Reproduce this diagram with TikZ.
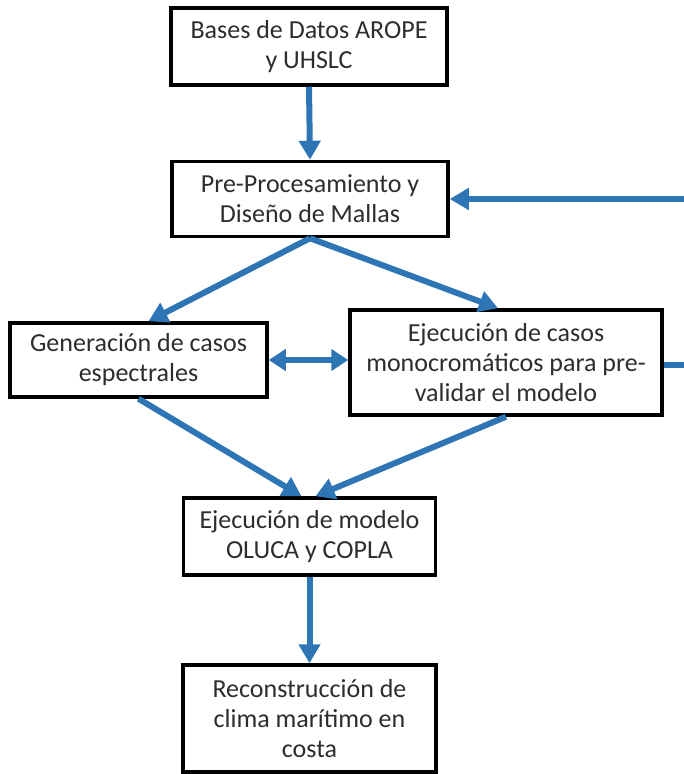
\documentclass[tikz,border=0pt]{standalone}
\usepackage{fontspec}
\setmainfont{Carlito}
\usepackage{xcolor}
\usetikzlibrary{arrows.meta,calc}
\definecolor{flowblue}{RGB}{46,117,182}
\definecolor{boxtext}{RGB}{45,45,45}

\begin{document}
\begin{tikzpicture}[x=1pt, y=-1pt,
    stage/.style={draw, line width=3.5pt, fill=white, inner sep=0pt, align=center,
      text=boxtext, font=\fontsize{26}{30}\selectfont},
    flow/.style={line width=6pt, flowblue, -{Triangle[length=19pt,width=21pt]}},
    flowboth/.style={line width=6pt, flowblue, {Triangle[length=17pt,width=21pt]}-{Triangle[length=17pt,width=21pt]}}]
  \useasboundingbox (0,0) rectangle (684,774);
  % Boxes
  \node[stage, minimum width=276pt, minimum height=77pt] (datos) at (309,46.5) {Bases de Datos AROPE\\y UHSLC};
  \node[stage, minimum width=276pt, minimum height=75pt] (mallas) at (310,199) {Pre-Procesamiento y\\Diseño de Mallas};
  \node[stage, minimum width=257pt, minimum height=74pt] (espec) at (138.5,360) {Generación de casos\\espectrales};
  \node[stage, minimum width=312pt, minimum height=105pt] (mono) at (506,362.5) {Ejecución de casos\\monocromáticos para pre-\\validar el modelo};
  \node[stage, minimum width=252pt, minimum height=77pt] (oluca) at (309.5,536.5) {Ejecución de modelo\\OLUCA y COPLA};
  \node[stage, minimum width=253pt, minimum height=107pt] (clima) at (309.5,718.5) {Reconstrucción de\\clima marítimo en\\costa};
  % Arrows
  \draw[flow] (datos.south) -- (mallas.north);
  \draw[flow] (mallas.south) -- ([xshift=10pt]espec.north);
  \draw[flow] (mallas.south) -- ([xshift=-8pt]mono.north);
  \draw[flowboth] (espec.east) -- (espec.east -| mono.west);
  \draw[flow] (espec.south) -- ([xshift=-8pt]oluca.north);
  \draw[flow] (mono.south) -- ([xshift=6pt]oluca.north);
  \draw[flow] (oluca.south) -- (clima.north);
  % Feedback loop, cut off at the right edge
  \draw[flow] ([yshift=-2.5pt]mono.east) -- ++(40,0) |- (mallas.east);
\end{tikzpicture}
\end{document}
